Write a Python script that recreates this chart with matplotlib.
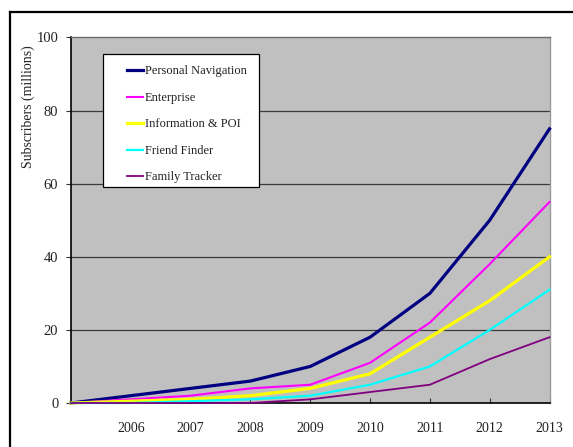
import matplotlib
matplotlib.use("Agg")
import matplotlib.pyplot as plt
from matplotlib.lines import Line2D
from matplotlib.patches import Rectangle

# data (millions of subscribers)
years = [2005, 2006, 2007, 2008, 2009, 2010, 2011, 2012, 2013]
tick_years = [2006, 2007, 2008, 2009, 2010, 2011, 2012, 2013]
personal_nav = [0, 2, 4, 6, 10, 18, 30, 50, 75]
enterprise = [0, 1, 2, 4, 5, 11, 22, 38, 55]
info_poi = [0, 0.5, 1, 2, 4, 8, 18, 28, 40]
friend_finder = [0, 0, 0.5, 1, 2, 5, 10, 20, 31]
family_tracker = [0, 0, 0, 0, 1, 3, 5, 12, 18]

series = [
    ("Personal Navigation", personal_nav, "#000080", 2.3),
    ("Enterprise", enterprise, "#ff00ff", 1.5),
    ("Information & POI", info_poi, "#ffff00", 2.3),
    ("Friend Finder", friend_finder, "#00ffff", 1.6),
    ("Family Tracker", family_tracker, "#800080", 1.3),
]

plt.rcParams["font.family"] = ["Liberation Serif", "DejaVu Serif"]
TXT = "#222222"

W, H = 573, 447
fig = plt.figure(figsize=(W / 100, H / 100), dpi=100)
ax = fig.add_axes([71 / W, 1 - 403 / H, (549.5 - 71) / W, (403 - 37.5) / H])
ax.set_facecolor("#c0c0c0")

for val in (20, 40, 60, 80):
    ax.axhline(val, color="#3a3a3a", lw=0.9, zorder=1)

handles = []
for name, vals, col, lw in series:
    ln, = ax.plot(years, vals, color=col, lw=lw, solid_joinstyle="miter", zorder=3,
                  clip_on=False)
    handles.append(ln)

ax.set_xlim(2005, 2013)
ax.set_ylim(0, 100)
ax.set_xticks(tick_years)
ax.set_xticklabels([str(y) for y in tick_years])
ax.set_yticks([0, 20, 40, 60, 80, 100])

ax.spines["left"].set_color("black")
ax.spines["bottom"].set_color("black")
ax.spines["left"].set_linewidth(1.2)
ax.spines["bottom"].set_linewidth(1.2)
ax.spines["top"].set_color("#6a6a6a")
ax.spines["right"].set_color("#9a9a9a")
ax.spines["top"].set_linewidth(1.0)
ax.spines["right"].set_linewidth(1.0)

ax.tick_params(axis="x", direction="in", length=3.6, width=0.8, pad=14,
               labelsize=10, labelcolor=TXT, color="#333333")
ax.tick_params(axis="y", direction="out", length=3.6, width=0.8, pad=5.5,
               labelsize=10.5, labelcolor=TXT, color="#333333")

ax.set_ylabel("Subscribers (millions)", fontsize=10, color=TXT)
ax.yaxis.set_label_coords(-0.075, 0.81)

# legend box drawn as a patch, legend itself frameless inside it
x0 = (103 - 71) / (549.5 - 71)
x1 = (259 - 71) / (549.5 - 71)
y0 = (403 - 187) / (403 - 37.5)
y1 = (403 - 54) / (403 - 37.5)
ax.add_patch(Rectangle((x0, y0), x1 - x0, y1 - y0, transform=ax.transAxes,
                       facecolor="white", edgecolor="black", lw=0.9, zorder=5))
leg = ax.legend(handles=handles, labels=[s[0] for s in series], frameon=False,
                loc="upper left", bbox_to_anchor=((124 - 71) / (549.5 - 71), (403 - 63) / (403 - 37.5)),
                fontsize=9, handlelength=1.3, handletextpad=0.15, labelspacing=1.16,
                borderpad=0.2, borderaxespad=0)
leg.set_zorder(6)
for t in leg.get_texts():
    t.set_color(TXT)

# outer frame of the original figure (only top and left edges are visible)
fig.add_artist(Line2D([10 / W, 1], [1 - 12 / H, 1 - 12 / H], color="black", lw=1.6,
                      transform=fig.transFigure))
fig.add_artist(Line2D([10 / W, 10 / W], [0, 1 - 12 / H], color="black", lw=1.6,
                      transform=fig.transFigure))

fig.savefig("out.png", dpi=100)
